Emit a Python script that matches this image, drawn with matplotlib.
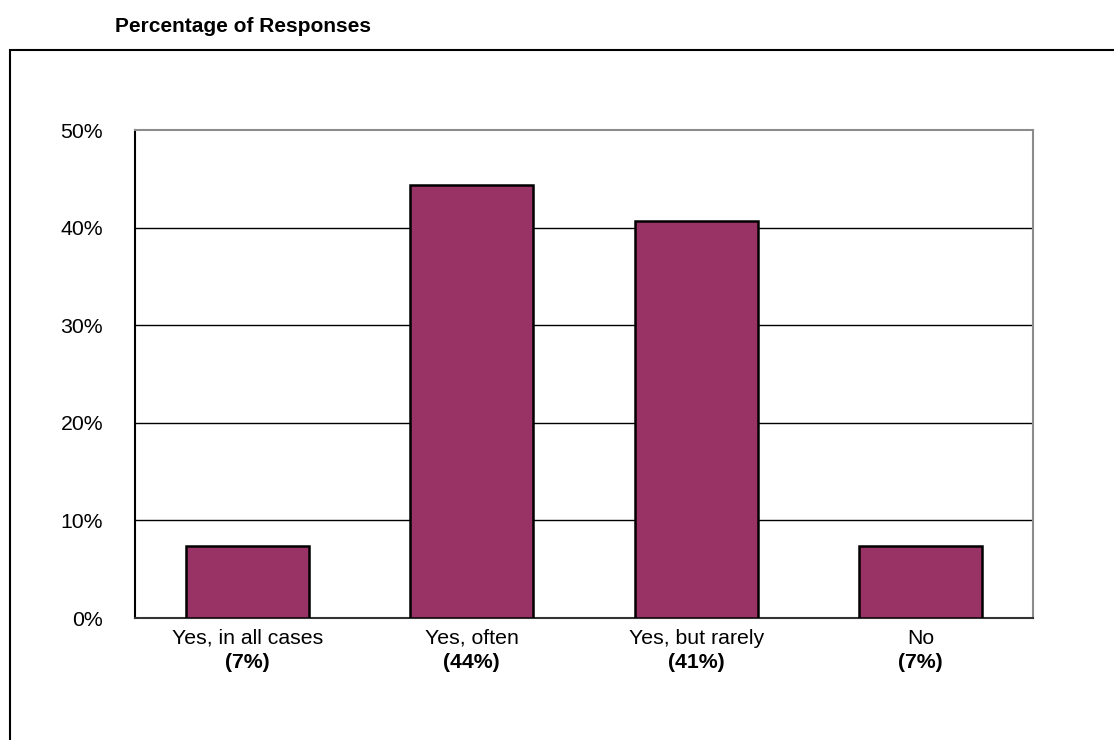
import matplotlib
matplotlib.use("Agg")
import matplotlib.pyplot as plt
from matplotlib.patches import Rectangle

plt.rcParams['font.family'] = ['Liberation Sans', 'DejaVu Sans']

# 27 responses: 2, 12, 11, 2
categories = ['Yes, in all cases', 'Yes, often', 'Yes, but rarely', 'No']
percents = [7.4, 44.4, 40.7, 7.4]
yticks = [0, 10, 20, 30, 40, 50]

bar_color = '#993366'

fig = plt.figure(figsize=(11.14, 7.40), dpi=100)
fig.patch.set_facecolor('white')

# outer frame running off the right and bottom edges
fig.patches.append(Rectangle((10 / 1114, -0.05), 1.2, 1.05 - 50 / 740,
                             transform=fig.transFigure, fill=False,
                             edgecolor='black', lw=1.5))

fig.text(115 / 1114, 1 - 27 / 740, 'Percentage of Responses',
         fontsize=15, fontweight='bold', ha='left', va='center')

ax = fig.add_axes([135 / 1114, 122 / 740, 898 / 1114, 488 / 740])
x = range(len(categories))
ax.bar(x, percents, width=0.55, color=bar_color, edgecolor='black',
       linewidth=1.8, zorder=3)

ax.set_xlim(-0.5, len(categories) - 0.5)
ax.set_ylim(0, 50)
ax.set_yticks(yticks)
ax.set_yticklabels([f'{t}%' for t in yticks], fontsize=15.3)
ax.tick_params(axis='y', length=0, pad=23)
ax.set_xticks([])

for t in yticks[1:-1]:
    ax.axhline(t, color='black', lw=1.0, zorder=1)

ax.spines['left'].set_color('black')
ax.spines['bottom'].set_color('#333333')
ax.spines['top'].set_color('#8c8c8c')
ax.spines['right'].set_color('#8c8c8c')
for s in ax.spines.values():
    s.set_linewidth(1.5)

for i, (c, p) in enumerate(zip(categories, percents)):
    ax.annotate(c, (i, 0), xytext=(0, -20), textcoords='offset pixels',
                ha='center', va='center', fontsize=15.3)
    ax.annotate(f'({round(p)}%)', (i, 0), xytext=(0, -45),
                textcoords='offset pixels', ha='center', va='center',
                fontsize=15.3, fontweight='bold')

fig.savefig('out.png', dpi=100)
